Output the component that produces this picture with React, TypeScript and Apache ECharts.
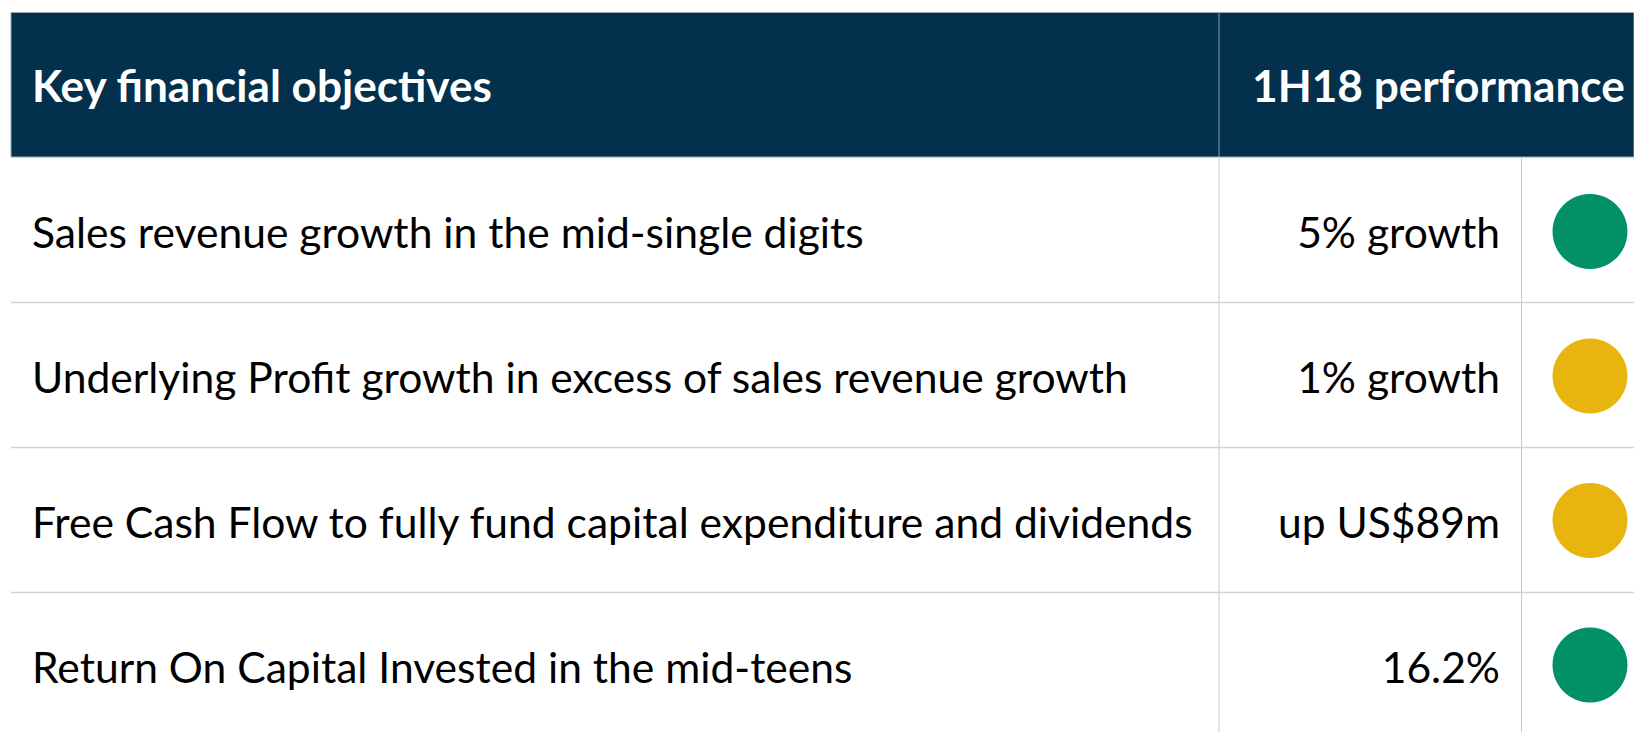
import React, { useEffect, useRef } from "react";
import * as echarts from "echarts";

const headers = ["Key financial objectives", "1H18 performance"];
const objectives = [
  "Sales revenue growth in the mid-single digits",
  "Underlying Profit growth in excess of sales revenue growth",
  "Free Cash Flow to fully fund capital expenditure and dividends",
  "Return On Capital Invested in the mid-teens",
];
const performance = ["5% growth", "1% growth", "up US$89m", "16.2%"];
const status = ["green", "amber", "amber", "green"];

const FONT = "Lato, 'Noto Sans', sans-serif";
const NAVY = "#03304C";
const GRID = "#C9C9C9";
const STATUS_COLORS: Record<string, string> = { green: "#029066", amber: "#E8B50F" };

function measure(text: string, size: number, weight: string) {
  const c = document.createElement("canvas");
  const ctx = c.getContext("2d")!;
  ctx.font = `${weight} ${size}px ${FONT}`;
  return ctx.measureText(text).width;
}

export default function App() {
  const ref = useRef<HTMLDivElement>(null);
  useEffect(() => {
    const chart = echarts.init(ref.current!, null, { renderer: "svg" });
    const W = 1634;
    const left = 11;
    const headerTop = 12.5;
    const headerBottom = 157;
    const rowH = 145;
    const col1 = 1219;
    const col2 = 1521.5;

    const longest = objectives[2];
    const bodySize = (44 * 1163) / measure(longest, 44, "normal");
    const h1Size = (44 * 461) / measure(headers[0], 44, "bold");
    const h2Size = (44 * 373) / measure(headers[1], 44, "bold");
    const CAP = 0.36;

    const els: any[] = [];
    els.push({
      type: "rect",
      shape: { x: left, y: headerTop, width: W - left, height: headerBottom - headerTop },
      style: { fill: NAVY, stroke: "#9AA5AE", lineWidth: 1 },
    });
    els.push({
      type: "line",
      shape: { x1: col1, y1: headerTop, x2: col1, y2: headerBottom },
      style: { stroke: "#8C9BA6", lineWidth: 1 },
    });
    els.push({
      type: "text",
      x: 32,
      y: 100 - CAP * h1Size,
      style: { text: headers[0], fill: "#fff", font: `bold ${h1Size}px ${FONT}`, textAlign: "left", textVerticalAlign: "middle" },
    });
    els.push({
      type: "text",
      x: 1252,
      y: 100 - CAP * h2Size,
      style: { text: headers[1], fill: "#fff", font: `bold ${h2Size}px ${FONT}`, textAlign: "left", textVerticalAlign: "middle" },
    });
    // vertical grid
    els.push({ type: "line", shape: { x1: col1, y1: headerBottom, x2: col1, y2: 732 }, style: { stroke: GRID, lineWidth: 1 } });
    els.push({ type: "line", shape: { x1: col2, y1: headerBottom, x2: col2, y2: 732 }, style: { stroke: GRID, lineWidth: 1 } });

    objectives.forEach((obj, i) => {
      const top = headerBottom + i * rowH;
      if (i > 0) {
        els.push({ type: "line", shape: { x1: left, y1: top + 0.5, x2: W, y2: top + 0.5 }, style: { stroke: "#D2D2D2", lineWidth: 1.5 } });
      }
      const cy = top + 90 - CAP * bodySize;
      els.push({
        type: "text",
        x: 32,
        y: cy,
        style: { text: obj, fill: "#000", font: `${bodySize}px ${FONT}`, textAlign: "left", textVerticalAlign: "middle" },
      });
      els.push({
        type: "text",
        x: 1500,
        y: cy,
        style: { text: performance[i], fill: "#000", font: `${bodySize}px ${FONT}`, textAlign: "right", textVerticalAlign: "middle" },
      });
      els.push({
        type: "circle",
        shape: { cx: 1590, cy: top + 74.5 - i * 0.5, r: 37.5 },
        style: { fill: STATUS_COLORS[status[i]] },
      });
    });

    chart.setOption({ animation: false, graphic: { elements: els } });
    return () => chart.dispose();
  }, []);
  return <div ref={ref} style={{ width: 1634, height: 732, position: "absolute", left: 0, top: 0, background: "#fff" }} />;
}
